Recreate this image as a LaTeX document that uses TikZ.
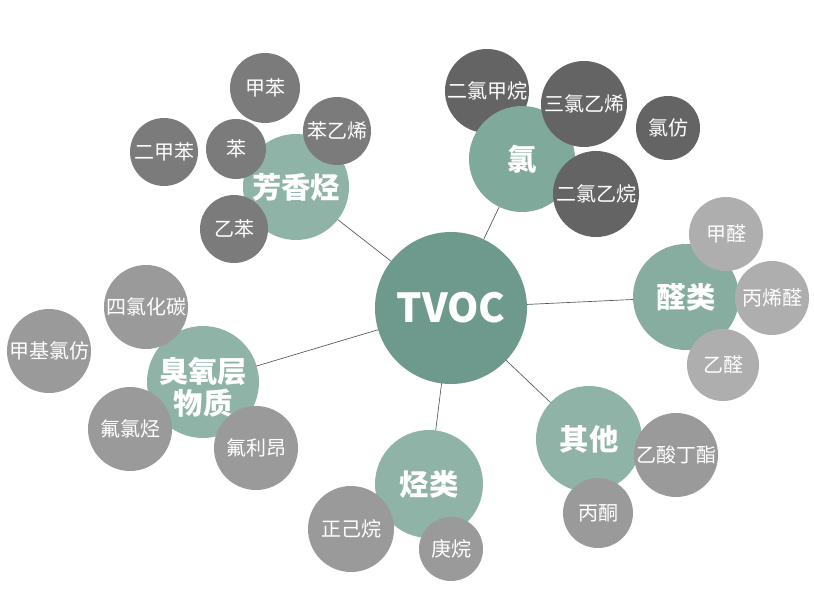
\documentclass[tikz,border=0pt]{standalone}
\usepackage{fontspec}
\setmainfont{Noto Sans CJK SC}
\usepackage{xcolor}
\usepackage{tikz}
\usetikzlibrary{backgrounds}

\definecolor{hubgreen}{HTML}{6D9A8C}
\definecolor{grpgreen}{HTML}{8FB3A7}
\definecolor{clgreen}{HTML}{7FA99B}
\definecolor{aldgreen}{HTML}{86AD9F}
\definecolor{leafdark}{HTML}{7B7B7B}
\definecolor{leafblack}{HTML}{646464}
\definecolor{leafmid}{HTML}{9A9A9A}
\definecolor{leaflight}{HTML}{AEAEAE}
\definecolor{linkgray}{HTML}{555555}

\begin{document}
\begin{tikzpicture}[x=0.75pt,y=-0.75pt,
    ball/.style={circle,inner sep=0pt,text=white,align=center,minimum size=#1*1.5pt},
    hub/.style={ball=76,fill=hubgreen,font=\bfseries\fontsize{30}{32}\selectfont},
    grp/.style={ball=#1,fill=grpgreen,font=\bfseries\fontsize{22}{24}\selectfont},
    leaf/.style={ball=#1,font=\fontsize{15}{17}\selectfont},
    link/.style={draw=linkgray,line width=0.5pt}]
    \useasboundingbox (0,0) rectangle (814,592);
    \node[hub] (tvoc) at (451,308) {TVOC};
    % groups
    \node[grp=53] (fx) at (296,187) {芳香烃};
    \node[leaf=42,fill=leafblack] (dcm) at (487,91) {二氯甲烷};
    \node[grp=53,fill=clgreen] (cl) at (522,159) {氯};
    \node[grp=53,fill=aldgreen] (ald) at (686,297) {醛类};
    \node[grp=56] (ozone) at (203,382) {};
    \node[font=\bfseries\fontsize{22}{24}\selectfont,text=white,align=center] (ozonetxt) at (203,387) {臭氧层\\物质};
    \node[grp=54] (alk) at (429,484) {烃类};
    \node[grp=53] (misc) at (589,439) {其他};
    % leaves
    \node[leaf=35,fill=leafdark] (tol) at (265,88) {甲苯};
    \node[leaf=34,fill=leafdark] (sty) at (337,131) {苯乙烯};
    \node[leaf=34,fill=leafdark] (xyl) at (164,152) {二甲苯};
    \node[leaf=30,fill=leafdark] (benz) at (236,149) {苯};
    \node[leaf=34,fill=leafdark] (eb) at (234,229) {乙苯};
    \node[leaf=43,fill=leafblack] (tce) at (584,104) {三氯乙烯};
    \node[leaf=32,fill=leafblack] (chl) at (668,128) {氯仿};
    \node[leaf=43,fill=leafblack] (dce) at (596,194) {二氯乙烷};
    \node[leaf=37,fill=leaflight] (form) at (726,234) {甲醛};
    \node[leaf=37,fill=leaflight] (acr) at (772,298) {丙烯醛};
    \node[leaf=36,fill=leaflight] (acet) at (723,365) {乙醛};
    \node[leaf=42,fill=leafmid] (ccl) at (146,307) {四氯化碳};
    \node[leaf=42,fill=leafmid] (mcf) at (49,351) {甲基氯仿};
    \node[leaf=42,fill=leafmid] (cfc) at (130,429) {氟氯烃};
    \node[leaf=42,fill=leafmid] (fre) at (256,448) {氟利昂};
    \node[leaf=43,fill=leafmid] (hex) at (351,529) {正己烷};
    \node[leaf=32,fill=leafmid] (hep) at (451,549) {庚烷};
    \node[leaf=42,fill=leafmid] (buac) at (676,455) {乙酸丁酯};
    \node[leaf=35,fill=leafmid] (acn) at (598,513) {丙酮};
    \begin{scope}[on background layer]
        \draw[link] (tvoc.center) -- (fx.center);
        \draw[link] (tvoc.center) -- (cl.center);
        \draw[link] (tvoc.center) -- (ald.center);
        \draw[link] (tvoc.center) -- (ozone.center);
        \draw[link] (tvoc.center) -- (alk.center);
        \draw[link] (tvoc.center) -- (misc.center);
    \end{scope}
\end{tikzpicture}
\end{document}
